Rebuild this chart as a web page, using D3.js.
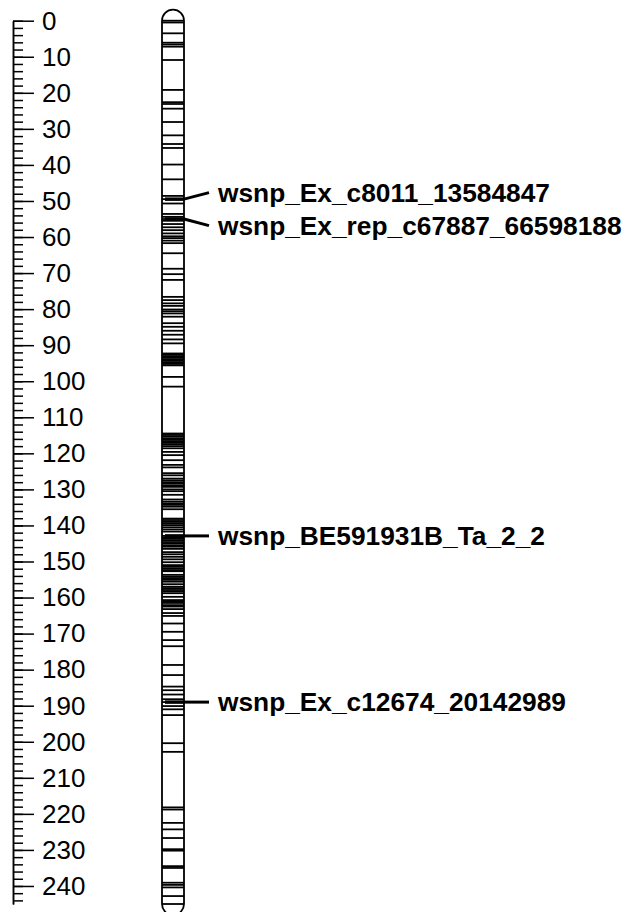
<!DOCTYPE html>
<html>
<head>
<meta charset="utf-8">
<script src="https://cdn.jsdelivr.net/npm/d3@7"></script>
<style>
  body { margin: 0; background: #fff; }
  text { font-family: "Liberation Sans", Arial, sans-serif; }
</style>
</head>
<body>
<script>
// marker positions (cM) along the linkage group
const markerPos = [0, 0.5, 3.5, 6.1, 6.6, 7.2, 10.9, 19.2, 22.6, 23.1, 24.4, 28.1, 31.8, 34.2, 35.3,
  39.9, 44.0, 48.6, 49.5, 50.7, 53.6, 54.4, 55.0, 55.5, 56.4, 57.3, 58.1, 59.0, 59.8, 60.3, 61.0, 61.7,
  64.5, 68.8, 70.3, 71.9, 76.6, 77.5, 78.4, 79.1, 80.1, 80.6, 81.2, 82.1, 83.9, 84.9, 86.0, 87.1,
  88.4, 89.5, 92.3, 92.7, 93.1, 93.5, 93.9, 94.3, 94.7, 95.2, 95.6, 98.8, 101.5,
  114.5, 114.9, 115.3, 115.8, 116.2, 116.6, 117.1, 117.5, 118.0, 118.6, 119.6, 120.5, 121.9,
  123.2, 123.9, 125.5, 126.1, 127.0, 127.5, 128.0, 128.4, 128.9, 129.3, 130.0, 130.5, 131.5,
  132.8, 133.4, 133.9, 134.3, 134.8, 135.5, 138.1, 138.5, 139.0, 139.4, 139.9, 140.5, 141.1,
  141.7, 142.9, 143.3, 143.7, 144.1, 144.6, 145.0, 145.5, 145.9, 146.5, 147.4, 148.0, 148.7,
  149.4, 150.2, 151.0, 151.5, 152.0, 152.4, 152.7, 153.7, 154.2, 154.6, 155.1, 155.6, 156.3,
  157.0, 157.4, 157.9, 158.3, 158.8, 159.8, 160.7, 161.2, 161.5, 162.1, 162.5, 163.2, 164.3,
  165.1, 167.2, 169.5, 171.8, 173.5, 178.7, 181.5, 184.7, 185.7, 186.9, 188.2, 189.0, 190.1,
  191.0, 192.6, 200.4, 202.8, 218.2, 218.8, 222.5, 224.3, 226.7, 229.8, 230.2, 234.5, 235.0,
  239.1, 239.7, 240.4, 242.8, 245.0];

const labelNames = ["wsnp_Ex_c8011_13584847", "wsnp_Ex_rep_c67887_66598188",
  "wsnp_BE591931B_Ta_2_2", "wsnp_Ex_c12674_20142989"];
const labelPos = [49.5, 55.0, 142.9, 189.0];

const majorTicks = d3.range(0, 241, 10);
const minorTicks = d3.range(0, 245, 2);
const groupLength = 245;

const width = 626, height = 912;

const svg = d3.select("body").append("svg")
  .attr("width", width)
  .attr("height", height);

const y = d3.scaleLinear()
  .domain([0, groupLength])
  .range([20.7, 904]);

// scale on the left
const axisG = svg.append("g").attr("transform", "translate(13,0)");

axisG.append("g")
  .call(d3.axisRight(y).tickValues(minorTicks).tickSize(10).tickSizeOuter(0).tickFormat(""))
  .call(g => g.selectAll("line,path").attr("stroke-width", 1.5));

axisG.append("g")
  .call(d3.axisRight(y).tickValues(majorTicks).tickSize(21).tickSizeOuter(0).tickPadding(8))
  .call(g => g.selectAll("line,path").attr("stroke-width", 1.5))
  .call(g => g.selectAll("text").attr("font-size", 26).attr("font-family", "Liberation Sans, Arial, sans-serif"));

// chromosome body
const cx0 = 162, cx1 = 184, r = (cx1 - cx0) / 2;
const body = d3.path();
body.moveTo(cx0, y(0));
body.arc(cx0 + r, y(0), r, Math.PI, 0);
body.lineTo(cx1, y(groupLength));
body.arc(cx0 + r, y(groupLength), r, 0, Math.PI);
body.closePath();

svg.append("path")
  .attr("d", body.toString())
  .attr("fill", "#fff")
  .attr("stroke", "#000")
  .attr("stroke-width", 1.8);

svg.append("g")
  .selectAll("line")
  .data(markerPos)
  .join("line")
  .attr("x1", cx0)
  .attr("x2", cx1)
  .attr("y1", d => y(d))
  .attr("y2", d => y(d))
  .attr("stroke", "#000")
  .attr("stroke-width", 1.8);

// spread labels so they don't overlap
const minGap = 33;
let clusters = labelPos.map((p, i) => ({ idx: [i], center: y(p) }));
let merged = true;
while (merged) {
  merged = false;
  for (let i = 0; i < clusters.length - 1; i++) {
    const a = clusters[i], b = clusters[i + 1];
    const aEnd = a.center + (a.idx.length - 1) * minGap / 2;
    const bStart = b.center - (b.idx.length - 1) * minGap / 2;
    if (bStart - aEnd < minGap) {
      const idx = a.idx.concat(b.idx);
      const center = d3.mean(idx, k => y(labelPos[k]));
      clusters.splice(i, 2, { idx, center });
      merged = true;
      break;
    }
  }
}
const labelY = [];
clusters.forEach(c => {
  c.idx.forEach((k, j) => {
    labelY[k] = c.center + (j - (c.idx.length - 1) / 2) * minGap;
  });
});

const labels = svg.append("g")
  .selectAll("g")
  .data(labelNames.map((name, i) => ({ name, pos: labelPos[i], ly: labelY[i] })))
  .join("g");

labels.append("line")
  .attr("x1", cx0 + 3)
  .attr("x2", cx1)
  .attr("y1", d => y(d.pos))
  .attr("y2", d => y(d.pos))
  .attr("stroke", "#000")
  .attr("stroke-width", 3.5);

labels.append("line")
  .attr("x1", cx1)
  .attr("x2", 209)
  .attr("y1", d => y(d.pos))
  .attr("y2", d => d.ly)
  .attr("stroke", "#000")
  .attr("stroke-width", 3);

labels.append("text")
  .attr("x", 218)
  .attr("y", d => d.ly)
  .attr("dy", "0.35em")
  .attr("font-size", 26.3)
  .attr("font-weight", "bold")
  .text(d => d.name);
</script>
</body>
</html>
